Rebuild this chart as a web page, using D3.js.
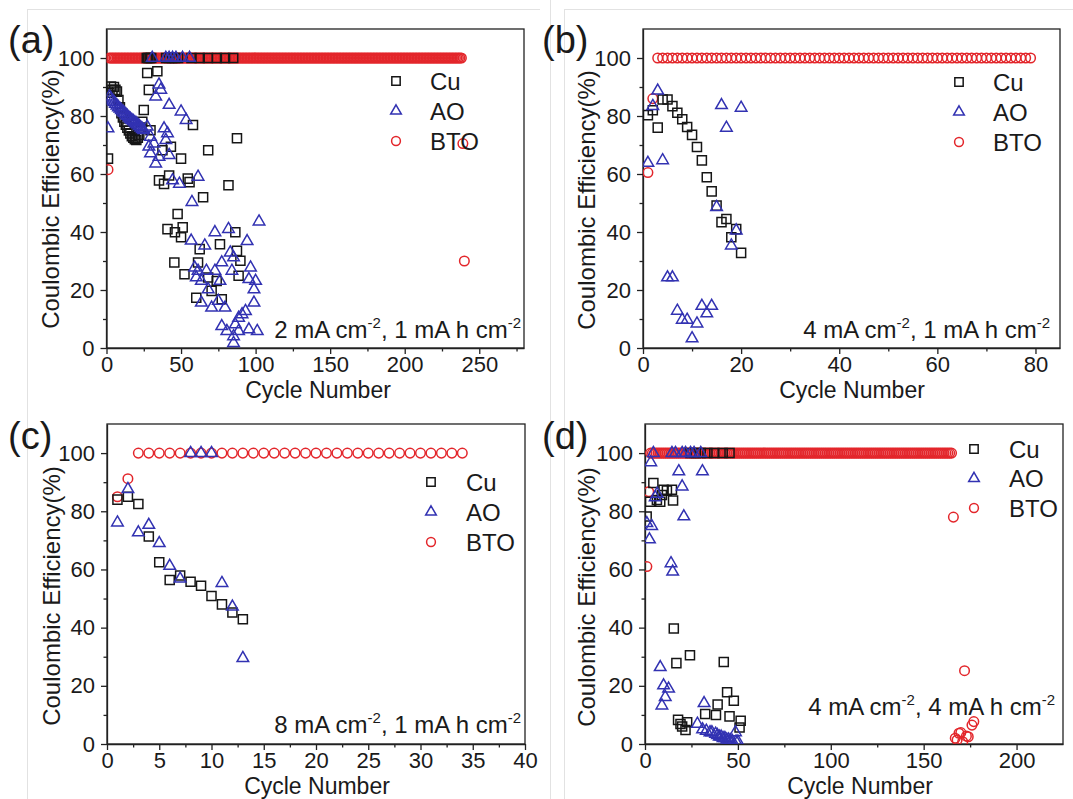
<!DOCTYPE html>
<html>
<head>
<meta charset="utf-8">
<script src="https://cdn.jsdelivr.net/npm/d3@7"></script>
<style>
  body { margin: 0; background: #fff; }
  svg text { font-family: "Liberation Sans", Arial, sans-serif; fill: #1a1a1a; }
</style>
</head>
<body>
<svg id="fig" width="1073" height="799"></svg>
<script>
// =============================
// DATA  (cycle, coulombic efficiency %)
// =============================
const seriesNames = ["Cu", "AO", "BTO"];
const yTicks = [0, 20, 40, 60, 80, 100];
const yMinorTicks = [10, 30, 50, 70, 90];

// (a) 2 mA cm-2, 1 mA h cm-2
const cuA = [[1,65.3],[2,88],[3,90.2],[4,89],[5,90],[6,89],[7,88.4],[8,85.5],[9,83],[10,81],[11,79.5],[12,78],[13,77],[14,76],[15,75],[16,74],[17,73],[18,72.5],[19,72],[20,71.7],[21,72.5],[22,73.5],[23,76],[24,78],[25,82.1],
  [27.3,94.8],[27,100],[28.4,89],[28,100],[29.5,75.1],[29,100],[30,100],[34.1,95.4],[35.2,57.8],[37.5,68.2],[38.6,56.6],[40,100],[40.9,41],[42,59.5],[42,100],[43.2,69.4],[44,100],
  [45.5,29.5],[45.9,39.9],[46,100],[47.7,46.2],[48,100],[50,65.3],[50,38.2],[51.1,41.6],[52.3,25.4],[54.5,58.4],[55.7,57.2],[57,100],[58,76.9],[60.2,17.3],[61.4,29.5],[62.5,34.1],[62.5,100],
  [64.8,52],[68.2,68.2],[68.2,24.3],[68,100],[70.5,19.7],[73.9,23.1],[74,100],[76.1,35.8],[77.3,16.8],[79.5,100],[81.8,56.1],[85,100],[86.4,39.9],[87.5,72.3],[87.5,33.5],[88.6,24.9],[89.8,30.1]];
const aoA = [[1,75.7],[2,86.7],[3,86],[4,85.3],[5,84.8],[6,84.2],[7,83.6],[8,83],[9,82.5],[10,82],[11,81.5],[12,81],[13,80.5],[14,80],[15,79.5],[16,79],[17,78.6],[18,78.2],[19,77.8],[20,77.4],[21,77],[22,76.5],[23,76],[24,75.5],[25,75.1],
  [27.3,76.3],[28.4,69.4],[29.5,72.8],[29.5,67.1],[30.7,100],[31.8,70.5],[33,63.6],[33,86.7],[35.2,90.8],[35.2,65.9],[36.4,89],[38.6,75.7],[39.8,71.7],[39.8,100],[40.9,74],[42,66.5],[42,83.8],[42,100],
  [44.3,57.8],[44.3,100],[46.6,100],[48.9,56.6],[50,81.5],[51,100],[53.4,78.6],[55.7,100],[56.8,37],[57.3,50.3],[59.1,27.7],[60.2,24.3],[61.4,59],[61.4,26.6],[63.6,23.1],[63.6,15.6],[65.9,35.3],
  [67,26.6],[68.2,20.2],[70.5,13.9],[72.7,39.9],[72.7,26.6],[75,16.2],[76.1,23.1],[77.3,29.5],[77.3,7.5],[79.5,13.9],[80.7,5.8],[81.8,41],[83,32.9],[84.1,26.6],[85.2,31.2],[85.2,4],[85.2,1.7],
  [86.4,8.1],[88.6,10.4],[88.6,5.8],[90.9,11.6],[93.2,12.7],[94.3,36.8],[95.5,23.7],[95.5,6.4],[96.6,27.7],[98.9,20.2],[98.9,15.6],[100,23.1],[101.1,5.8],[102.3,43.6]];
const btoA = [[1,61.5],[239,70.5],[240,30]];
const btoFlatA = [2, 238];   // first and last cycle that read 100 %

// (b) 4 mA cm-2, 1 mA h cm-2
const cuB = [[1,80.3],[2,82],[3,76],[4,85.7],[5,85.7],[6,83.4],[7,81.1],[8,78.9],[9,76.2],[10,73.5],[11,69.3],[12,64.7],[13,58.9],[14,54],[15,49.1],[16,43.4],[17,44.5],[18,38.2],[19,41],[20,32.8]];
const aoB = [[1,63.8],[2,83.4],[3,88.7],[4,64.7],[5,24.3],[6,24.3],[7,12.8],[8,9.7],[9,9.7],[10,3.3],[11,8.4],[12,14.5],[13,11.9],[14,14.5],[15,48.6],[16,83.7],[17,75.9],[18,35.3],[19,40.5],[20,82.8]];
const btoB = [[1,60.5],[2,86]];
const btoFlatB = [3, 79];

// (c) 8 mA cm-2, 1 mA h cm-2
const cuC = [[1,84],[2,85],[3,82.5],[4,71.3],[5,62.5],[6,56.4],[7,57.9],[8,55.8],[9,54.4],[10,50.9],[11,48],[12,45.2],[13,42.9]];
const aoC = [[1,76.1],[2,87.6],[3,72.7],[4,75.3],[5,69],[6,61.2],[7,56.8],[8,100],[9,100],[10,100],[11,55.3],[12,47.2],[13,29.5]];
const btoC = [[1,85],[2,91.2]];
const btoFlatC = [3, 34];

// (d) 4 mA cm-2, 4 mA h cm-2
const cuD = [[0.9,78.2],[2.7,83.3],[4.5,89.7],[6.4,83.9],[8.2,83.3],[9.1,85.6],[10,87.4],[11.8,87.1],[14.5,87.4],[15.1,83.7],[15.5,39.7],[16.9,27.8],[17.8,8.3],[19.1,6.9],[20,6],[21.8,4.8],[22.7,7.5],
  [24.2,30.5],[24.5,100],[27.3,100],[30,100],[32.4,10.3],[33.6,100],[37.3,100],[38.2,10],[39.1,13.6],[41.8,100],[42.4,28.2],[44.2,17.8],[45.5,9.5],[45.5,100],[47.8,14.9],[50.9,5.7],[51.5,8]];
const aoD = [[1,75.9],[2.4,70.3],[3.1,96.8],[3.6,74.9],[4.5,100],[5.5,84.8],[6.5,86],[8.2,26.4],[9.1,13.2],[10,20.1],[10.9,16.1],[12.7,19],[14,62.1],[14.5,100],[14.9,59.2],[16.4,100],
  [18.2,93.7],[20,88.5],[20,100],[20.9,78.2],[21.8,100],[24.5,100],[26.4,100],[28.2,6.9],[30,100],[30.9,93.7],[31.8,14],[31,5],[33,4.5],[35,4],[36,4],[38,3.5],[39,3],[40,2.5],[41,2.5],
  [42,2],[43,2],[44,1.5],[45,1.5],[46,1.2],[47,1],[48.7,4],[49,0.8],[50,0.8]];
const btoD = [[1,61],[2,86.7],[166,78],[167,2],[168,1.4],[169,3.7],[170,3.9],[171,0.8],[172,25.2],[173,2.7],[174,2.5],[176,6.5],[177,7.7]];
const btoFlatD = [3, 165];

// =============================
// PANEL SETUP
// =============================
const colors = { Cu: "#161616", AO: "#3232b2", BTO: "#e3262b" };
const symbols = { Cu: d3.symbolSquare, AO: d3.symbolTriangle, BTO: d3.symbolCircle };
const symSize = { Cu: 82, AO: 58, BTO: 72 };

const panels = [
  { id: "a", box: [106.5, 524, 29, 348], xDomain: [0, 280],
    xTicks: [0, 50, 100, 150, 200, 250], xMinor: [25, 75, 125, 175, 225, 275],
    cu: cuA, ao: aoA, bto: btoA, flat: btoFlatA,
    label: "(a)", labelAt: [8, 53], yTitleAt: [59, 199], xTitleAt: [318, 398],
    legend: [396, 430, 81, 30], note: ["2", "1"], noteAt: [521, 338] },
  { id: "b", box: [643, 1060, 29, 348], xDomain: [0, 85],
    xTicks: [0, 20, 40, 60, 80], xMinor: [10, 30, 50, 70],
    cu: cuB, ao: aoB, bto: btoB, flat: btoFlatB,
    label: "(b)", labelAt: [542, 53], yTitleAt: [595, 200], xTitleAt: [852, 398],
    legend: [959, 993, 82, 30], note: ["4", "1"], noteAt: [1050, 338] },
  { id: "c", box: [107, 525, 424, 744], xDomain: [0, 40],
    xTicks: [0, 5, 10, 15, 20, 25, 30, 35, 40], xMinor: [2.5, 7.5, 12.5, 17.5, 22.5, 27.5, 32.5, 37.5],
    cu: cuC, ao: aoC, bto: btoC, flat: btoFlatC,
    label: "(c)", labelAt: [8, 449], yTitleAt: [60, 596], xTitleAt: [317, 794],
    legend: [431, 466, 482, 30], note: ["8", "1"], noteAt: [521, 733] },
  { id: "d", box: [645, 1063, 424, 744], xDomain: [0, 225],
    xTicks: [0, 50, 100, 150, 200], xMinor: [25, 75, 125, 175],
    cu: cuD, ao: aoD, bto: btoD, flat: btoFlatD,
    label: "(d)", labelAt: [542, 449], yTitleAt: [595, 597], xTitleAt: [860, 794],
    legend: [974, 1009, 449, 29.5], note: ["4", "4"], noteAt: [1055, 715] }
];

const svg = d3.select("#fig");

// faint frames of the original figure sheet
const sheet = svg.append("g").attr("stroke", "#e2e2e2").attr("stroke-width", 1).attr("fill", "none");
[[27.5, 9, 27.5, 799], [27.5, 9.5, 540, 9.5], [550.5, 0, 550.5, 799], [564.5, 9, 564.5, 799], [564.5, 9.5, 1073, 9.5]]
  .forEach(l => sheet.append("line").attr("x1", l[0]).attr("y1", l[1]).attr("x2", l[2]).attr("y2", l[3]));

// =============================
// DRAW ONE PANEL
// =============================
function drawPanel(p) {
  const [x0, x1, y0, y1] = p.box;
  const x = d3.scaleLinear().domain(p.xDomain).range([x0, x1]);
  const y = d3.scaleLinear().domain([0, 110]).range([y1, y0]);
  const g = svg.append("g");

  // axes
  const styleAxis = sel => {
    sel.selectAll("path,line").attr("stroke", "#222").attr("stroke-width", 1.3);
    sel.selectAll("text").attr("font-size", 22).attr("font-family", "Liberation Sans, Arial, sans-serif").attr("fill", "#1a1a1a");
  };
  g.append("g").attr("transform", `translate(0,${y1})`)
    .call(d3.axisBottom(x).tickValues(p.xTicks).tickSize(6).tickPadding(2.5).tickSizeOuter(0))
    .call(styleAxis);
  g.append("g").attr("transform", `translate(0,${y1})`)
    .call(d3.axisBottom(x).tickValues(p.xMinor).tickSize(3.5).tickFormat("").tickSizeOuter(0))
    .call(styleAxis).select(".domain").remove();
  g.append("g").attr("transform", `translate(${x0},0)`)
    .call(d3.axisLeft(y).tickValues(yTicks).tickSize(6).tickPadding(6).tickSizeOuter(0))
    .call(styleAxis);
  g.append("g").attr("transform", `translate(${x0},0)`)
    .call(d3.axisLeft(y).tickValues(yMinorTicks).tickSize(3.5).tickFormat("").tickSizeOuter(0))
    .call(styleAxis).select(".domain").remove();

  g.append("rect").attr("x", x0).attr("y", y0).attr("width", x1 - x0).attr("height", y1 - y0)
    .attr("fill", "none").attr("stroke", "#222").attr("stroke-width", 1.3);

  // clip for markers
  svg.append("clipPath").attr("id", "clip-" + p.id)
    .append("rect").attr("x", x0).attr("y", y0).attr("width", x1 - x0).attr("height", y1 - y0);
  const plot = g.append("g").attr("clip-path", `url(#clip-${p.id})`);

  // BTO: flat 100 % run plus the off-run cycles
  const btoPts = d3.range(p.flat[0], p.flat[1] + 1).map(c => [c, 100]).concat(p.bto);
  const layers = [["BTO", btoPts], ["Cu", p.cu], ["AO", p.ao]];
  layers.forEach(([name, pts]) => {
    plot.append("g").selectAll("path").data(pts).enter().append("path")
      .attr("d", d3.symbol().type(symbols[name]).size(symSize[name]))
      .attr("transform", d => `translate(${x(d[0])},${y(d[1])})`)
      .attr("fill", "none").attr("stroke", colors[name]).attr("stroke-width", 1.5);
  });

  // legend
  const [lx, tx, ly, gap] = p.legend;
  seriesNames.forEach((name, i) => {
    g.append("path")
      .attr("d", d3.symbol().type(symbols[name]).size(symSize[name] * 0.85))
      .attr("transform", `translate(${lx},${ly + i * gap})`)
      .attr("fill", "none").attr("stroke", colors[name]).attr("stroke-width", 1.5);
    g.append("text").attr("x", tx).attr("y", ly + i * gap + 8.5)
      .attr("font-size", 24).text(name);
  });

  // condition note
  const note = g.append("text").attr("x", p.noteAt[0]).attr("y", p.noteAt[1])
    .attr("text-anchor", "end").attr("font-size", 24);
  note.append("tspan").text(p.note[0] + " mA cm");
  note.append("tspan").attr("dy", -10).attr("font-size", 15).text("-2");
  note.append("tspan").attr("dy", 10).text(", " + p.note[1] + " mA h cm");
  note.append("tspan").attr("dy", -10).attr("font-size", 15).text("-2");

  // titles
  g.append("text").attr("x", p.xTitleAt[0]).attr("y", p.xTitleAt[1])
    .attr("text-anchor", "middle").attr("font-size", 23).text("Cycle Number");
  g.append("text").attr("transform", `translate(${p.yTitleAt[0]},${p.yTitleAt[1]}) rotate(-90)`)
    .attr("text-anchor", "middle").attr("font-size", 24).text("Coulombic Efficiency(%)");

  // panel label
  g.append("text").attr("x", p.labelAt[0]).attr("y", p.labelAt[1])
    .attr("font-family", "Open Sans, sans-serif").attr("font-size", 38).text(p.label);
}

panels.forEach(drawPanel);
</script>
</body>
</html>
